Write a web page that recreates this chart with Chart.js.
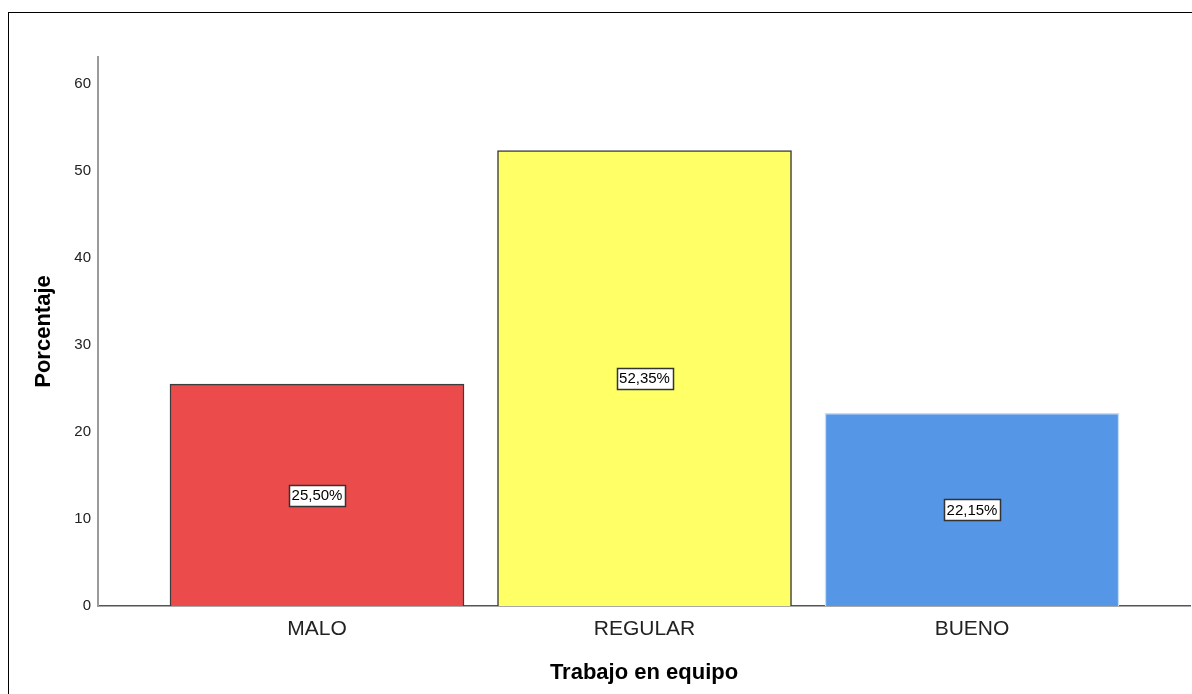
<!DOCTYPE html>
<html>
<head>
<meta charset="utf-8">
<script src="https://cdn.jsdelivr.net/npm/chart.js@4.4.0/dist/chart.umd.min.js"></script>
<style>
  body { margin: 0; background: #fff; }
  #wrap { position: relative; width: 1192px; height: 694px; }
  #frame { position: absolute; left: 8px; top: 12px; width: 1184px; height: 682px;
           border-top: 1px solid #000; border-left: 1px solid #000; box-sizing: border-box; }
  #my-chart { position: absolute; left: 0; top: 0; }
</style>
</head>
<body>
<div id="wrap">
  <div id="frame"></div>
  <canvas id="my-chart" width="1192" height="694"></canvas>
</div>
<script>
'use strict';

//categories and percentages
let categories = ['MALO', 'REGULAR', 'BUENO'];
let percentages = [25.50, 52.35, 22.15];
let yTicks = [0, 10, 20, 30, 40, 50, 60];

//bar styles
let barColors = ['#EC4B4C', '#FFFF66', '#5596E6'];
let barBorders = ['#3c3c3c', '#3c3c3c', '#c4dcf6'];

const ctx = document.getElementById('my-chart').getContext('2d');
const fontFamily = "'Liberation Sans', Arial, sans-serif";

//labels in white boxes at the middle of each bar
const boxLabels = {
  id: 'boxLabels',
  afterDatasetsDraw(chart) {
    let c = chart.ctx;
    let meta = chart.getDatasetMeta(0);
    c.save();
    c.font = '15px ' + fontFamily;
    c.textAlign = 'center';
    c.textBaseline = 'middle';
    meta.data.forEach(function(bar, i) {
      let text = percentages[i].toFixed(2).replace('.', ',') + '%';
      let props = bar.getProps(['x', 'y', 'base'], true);
      let cy = (props.y + props.base) / 2;
      let w = Math.round(c.measureText(text).width + 5);
      let h = 21;
      let x0 = Math.round(props.x - w / 2) + 0.5;
      let y0 = Math.round(cy - h / 2) + 0.5;
      c.fillStyle = '#ffffff';
      c.fillRect(x0, y0, w, h);
      c.strokeStyle = '#333333';
      c.lineWidth = 1.5;
      c.strokeRect(x0, y0, w, h);
      c.fillStyle = '#000000';
      c.fillText(text, props.x, cy + 1);
    });
    c.restore();
  }
};

function renderChart() {
  let points = [];
  for(let i = 0; i < categories.length; i++) {
    points.push({ x: i, y: percentages[i] });
  }

  const myObj = {
    type: 'bar',
    data: {
      datasets: [{
        data: points,
        backgroundColor: barColors,
        borderColor: barBorders,
        borderWidth: 1.5,
        barThickness: 294
      }]
    },
    options: {
      responsive: false,
      animation: false,
      layout: { padding: { left: 0, top: 57, right: 2, bottom: 0 } },
      plugins: { legend: { display: false }, tooltip: { enabled: false } },
      scales: {
        x: {
          type: 'linear',
          offset: false,
          min: -0.6687,
          max: 2.6656,
          grid: { display: false, drawTicks: false, offset: false },
          border: { display: true, color: '#555555', width: 1.5 },
          afterBuildTicks: function(scale) {
            scale.ticks = categories.map(function(c, i) { return { value: i }; });
          },
          afterFit: function(scale) { scale.height = 88; },
          ticks: {
            padding: 11,
            color: '#222222',
            maxRotation: 0,
            autoSkip: false,
            font: { family: fontFamily, size: 21 },
            callback: function(value) { return categories[value]; }
          },
          title: {
            display: true,
            text: 'Trabajo en equipo',
            color: '#000000',
            font: { family: fontFamily, size: 22, weight: 'bold' },
            padding: { top: 0, bottom: 8 }
          }
        },
        y: {
          min: 0,
          max: 63.1,
          grid: { display: false, drawTicks: false },
          border: { display: true, color: '#9a9a9a', width: 2 },
          afterBuildTicks: function(scale) {
            scale.ticks = yTicks.map(function(v) { return { value: v }; });
          },
          afterFit: function(scale) { scale.width = 98; },
          ticks: {
            padding: 7,
            color: '#222222',
            font: { family: fontFamily, size: 15 }
          },
          title: {
            display: true,
            text: 'Porcentaje',
            color: '#000000',
            font: { family: fontFamily, size: 22, weight: 'bold' },
            padding: { top: 31, bottom: 0 }
          }
        }
      }
    },
    plugins: [boxLabels]
  };

  const myChart = new Chart(ctx, myObj);
}

renderChart();
</script>
</body>
</html>
